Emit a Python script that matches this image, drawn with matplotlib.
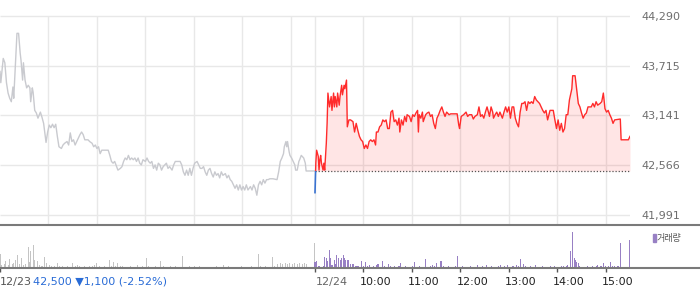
import matplotlib
matplotlib.use("Agg")
import matplotlib.pyplot as plt
from matplotlib.lines import Line2D
from matplotlib.patches import Rectangle
import numpy as np

# minutes on a continuous axis: 0-390 = 12/23 session, 390-780 = 12/24 session
prev_day = [(0, 43650), (1, 43520), (4, 43800), (6, 43750), (8, 43520), (10, 43400), (12, 43340),
            (14, 43300), (16, 43470), (17, 43340), (21, 44090), (23, 44090), (25, 43860), (26, 43780),
            (28, 43550), (29, 43750), (31, 43550), (33, 43460), (35, 43490), (37, 43460), (38, 43300),
            (40, 43460), (41, 43410), (43, 43200), (45, 43170), (47, 43110), (50, 43180), (52, 43120),
            (54, 43050), (57, 42830), (59, 42950), (61, 43030), (63, 43000), (65, 43040), (67, 43000),
            (69, 43040), (71, 42900), (73, 42780), (76, 42760), (78, 42800), (80, 42820), (83, 42840),
            (85, 42800), (87, 42940), (89, 42840), (91, 42860), (93, 42800), (95, 42840), (97, 42880),
            (99, 42920), (101, 42950), (103, 42920), (105, 42860), (107, 42860), (109, 42860),
            (111, 42840), (114, 42820), (116, 42780), (118, 42800), (120, 42760), (122, 42780),
            (124, 42700), (126, 42740), (130, 42740), (134, 42740), (136, 42680), (138, 42610),
            (140, 42590), (142, 42610), (146, 42510), (149, 42530), (151, 42550), (153, 42610),
            (155, 42650), (157, 42630), (159, 42680), (161, 42630), (163, 42650), (165, 42630),
            (167, 42650), (169, 42610), (171, 42650), (173, 42590), (175, 42570), (177, 42630),
            (180, 42610), (182, 42650), (184, 42610), (186, 42590), (188, 42610), (190, 42530),
            (192, 42570), (194, 42510), (196, 42590), (198, 42570), (200, 42510), (202, 42550),
            (204, 42570), (206, 42590), (208, 42530), (210, 42550), (213, 42510), (215, 42570),
            (217, 42610), (223, 42610), (225, 42570), (227, 42490), (229, 42450), (231, 42510),
            (233, 42450), (235, 42530), (237, 42450), (239, 42530), (241, 42590), (244, 42610),
            (246, 42570), (248, 42530), (250, 42530), (252, 42550), (254, 42490), (256, 42450),
            (258, 42510), (260, 42530), (262, 42470), (264, 42430), (266, 42490), (268, 42450),
            (270, 42470), (272, 42420), (274, 42490), (276, 42450), (279, 42470), (281, 42420),
            (283, 42450), (285, 42400), (287, 42380), (289, 42340), (291, 42300), (293, 42340),
            (295, 42280), (297, 42340), (299, 42280), (301, 42320), (303, 42280), (305, 42340),
            (307, 42280), (310, 42320), (312, 42280), (314, 42340), (316, 42300), (318, 42220),
            (320, 42340), (322, 42380), (324, 42340), (326, 42400), (328, 42360), (330, 42400),
            (332, 42400), (334, 42410), (338, 42410), (343, 42400), (345, 42490), (347, 42610),
            (349, 42650), (351, 42700), (352, 42780), (354, 42840), (355, 42780), (356, 42840),
            (358, 42720), (359, 42680), (361, 42650), (363, 42610), (365, 42570), (366, 42510),
            (368, 42510), (370, 42610), (371, 42630), (373, 42680), (376, 42650), (378, 42590),
            (379, 42500), (390, 42500)]

today = [(390, 42250), (391, 42590), (392, 42740), (394, 42670), (395, 42510), (396, 42630),
         (397, 42680), (398, 42590), (400, 42510), (401, 42590), (402, 42510), (404, 42820),
         (405, 43050), (406, 43400), (408, 43240), (410, 43360), (411, 43200), (413, 43400),
         (414, 43240), (415, 43360), (417, 43240), (418, 43400), (420, 43260), (421, 43360),
         (423, 43490), (424, 43380), (426, 43490), (427, 43450), (429, 43550), (430, 43010),
         (432, 43090), (434, 43090), (437, 43070), (439, 42950), (441, 43050), (443, 42970),
         (445, 42900), (447, 42860), (449, 42840), (451, 42760), (453, 42800), (455, 42760),
         (457, 42840), (459, 42860), (461, 42840), (463, 42860), (465, 42800), (466, 42950),
         (468, 42950), (470, 43010), (472, 43030), (474, 43090), (476, 43070), (478, 43090),
         (480, 42990), (482, 42990), (484, 43180), (486, 43200), (488, 43070), (490, 43090),
         (492, 43030), (494, 43110), (495, 42950), (497, 43090), (499, 43030), (501, 43130),
         (503, 43070), (504, 43150), (507, 43130), (509, 43070), (511, 43150), (513, 43130),
         (515, 43170), (517, 43200), (518, 42950), (519, 43150), (521, 43110), (523, 43180),
         (524, 43070), (527, 43150), (529, 43170), (531, 43180), (533, 43130), (535, 43150),
         (537, 43050), (539, 42990), (541, 43110), (543, 43150), (545, 43200), (547, 43240),
         (549, 43180), (551, 43130), (553, 43180), (556, 43150), (558, 43160), (566, 43160),
         (568, 43030), (569, 42990), (571, 43130), (574, 43150), (577, 43180), (579, 43130),
         (581, 43150), (584, 43150), (586, 43100), (588, 43130), (591, 43150), (593, 43240),
         (595, 43130), (597, 43150), (599, 43110), (601, 43180), (603, 43240), (605, 43170),
         (606, 43130), (608, 43240), (610, 43180), (611, 43110), (613, 43150), (615, 43180),
         (617, 43130), (619, 43180), (622, 43110), (624, 43180), (626, 43240), (628, 43180),
         (630, 43240), (632, 43110), (634, 43240), (636, 43240), (638, 43110), (640, 43050),
         (642, 43010), (644, 43180), (646, 43280), (648, 43280), (650, 43300), (652, 43200),
         (654, 43300), (656, 43280), (658, 43300), (660, 43280), (662, 43360), (664, 43320),
         (666, 43300), (668, 43280), (670, 43240), (672, 43200), (674, 43170), (676, 43200),
         (678, 43090), (681, 43200), (685, 43200), (687, 43090), (689, 42990), (691, 43090),
         (693, 42970), (695, 43050), (697, 42950), (699, 42990), (701, 43150), (703, 43150),
         (705, 43320), (708, 43450), (709, 43600), (712, 43600), (714, 43440), (716, 43280),
         (718, 43240), (720, 43170), (722, 43110), (724, 43150), (726, 43170), (728, 43240),
         (732, 43240), (734, 43280), (736, 43240), (738, 43300), (740, 43260), (743, 43280),
         (745, 43300), (747, 43400), (749, 43220), (751, 43180), (753, 43200), (755, 43150),
         (757, 43110), (759, 43050), (761, 43090), (768, 43100), (769, 42860), (778, 42860),
         (780, 42900)]

# volume (thousand shares)
prev_vol = [(0, 14), (2, 3), (5, 4), (7, 7), (10, 3), (12, 9), (15, 4), (17, 5), (19, 8), (22, 13),
            (24, 4), (27, 10), (29, 3), (32, 4), (35, 21), (37, 6), (38, 17), (41, 23), (43, 8),
            (46, 7), (49, 3), (52, 2), (55, 11), (58, 5), (61, 3), (64, 2), (67, 2), (71, 5), (74, 2),
            (77, 2), (80, 1), (83, 2), (86, 1), (90, 5), (93, 2), (96, 3), (99, 2), (102, 1), (105, 2),
            (108, 1), (111, 2), (114, 2), (117, 3), (120, 5), (123, 2), (126, 1), (129, 2), (132, 1),
            (136, 8), (138, 2), (140, 6), (143, 2), (146, 5), (149, 2), (152, 2), (155, 1), (158, 1),
            (161, 2), (164, 1), (167, 1), (170, 3), (173, 1), (176, 2), (178, 1), (181, 10), (184, 2),
            (187, 1), (190, 1), (193, 2), (196, 1), (199, 7), (202, 2), (205, 1), (208, 1), (211, 2),
            (214, 1), (217, 2), (220, 1), (223, 1), (226, 12), (229, 1), (232, 1), (235, 2), (238, 1),
            (241, 2), (244, 1), (247, 2), (250, 1), (253, 1), (256, 1), (259, 1), (262, 1), (265, 1),
            (268, 2), (271, 1), (274, 1), (277, 3), (280, 1), (283, 2), (287, 1), (290, 1), (293, 1),
            (296, 1), (299, 2), (302, 1), (305, 1), (308, 1), (311, 2), (314, 1), (317, 1), (320, 14),
            (323, 2), (326, 1), (329, 2), (332, 1), (337, 11), (340, 2), (344, 4), (347, 5), (350, 4),
            (353, 5), (356, 4), (359, 5), (362, 4), (365, 5), (368, 4), (371, 5), (374, 4), (377, 5),
            (379, 4), (389, 25)]

today_vol = [(390, 6), (391, 5), (392, 7), (394, 2), (396, 2), (398, 1), (400, 2), (402, 11),
             (404, 10), (406, 7), (408, 18), (409, 10), (411, 3), (412, 3), (414, 8), (415, 4),
             (417, 13), (419, 10), (421, 8), (423, 10), (425, 13), (426, 10), (428, 8), (430, 8),
             (432, 8), (434, 4), (436, 4), (438, 4), (440, 2), (442, 2), (444, 2), (446, 1), (448, 7),
             (450, 2), (453, 6), (455, 2), (458, 3), (461, 1), (463, 2), (466, 3), (468, 4), (470, 1),
             (473, 7), (476, 2), (478, 1), (481, 4), (484, 2), (488, 2), (491, 1), (494, 2), (496, 5),
             (499, 1), (502, 2), (505, 1), (508, 1), (511, 2), (513, 6), (516, 1), (519, 2), (522, 1),
             (524, 1), (527, 9), (530, 1), (533, 2), (536, 3), (538, 2), (541, 5), (543, 1), (546, 7),
             (549, 2), (552, 1), (555, 2), (558, 1), (561, 1), (564, 2), (567, 12), (570, 1), (573, 2),
             (576, 1), (579, 1), (582, 2), (585, 1), (588, 1), (591, 3), (594, 1), (597, 2), (599, 1),
             (602, 3), (605, 1), (608, 2), (611, 1), (614, 1), (617, 2), (620, 3), (623, 1), (625, 2),
             (628, 3), (631, 1), (634, 2), (636, 2), (639, 3), (642, 2), (645, 9), (648, 4), (651, 2),
             (654, 1), (657, 2), (660, 1), (663, 3), (666, 1), (669, 1), (672, 2), (675, 1), (678, 1),
             (681, 2), (684, 1), (686, 2), (689, 1), (692, 1), (695, 2), (698, 2), (701, 2), (703, 3),
             (706, 17), (709, 36), (711, 10), (712, 8), (714, 6), (716, 5), (718, 2), (721, 1),
             (724, 1), (727, 2), (730, 1), (733, 2), (736, 1), (738, 2), (740, 3), (743, 2), (745, 2),
             (747, 5), (750, 2), (753, 2), (756, 6), (758, 2), (761, 2), (764, 2), (766, 2), (768, 25),
             (779, 28)]

ref_price = 42500
price_ticks = [41991, 42566, 43141, 43715, 44290]
price_labels = ["41,991", "42,566", "43,141", "43,715", "44,290"]
hour_grid = [60, 120, 180, 240, 300, 360, 390, 450, 510, 570, 630, 690, 750]
axis_ticks = [0, 390, 450, 510, 570, 630, 690, 750]
axis_labels = ["12/23", "12/24", "10:00", "11:00", "12:00", "13:00", "14:00", "15:00"]
info_text = "42,500 \u25bc1,100 (-2.52%)"

W, H = 700, 289
fig = plt.figure(figsize=(W / 100, H / 100), dpi=100)

ax = fig.add_axes([0, (H - 225) / H, 630 / W, 225 / H])
ax.set_xlim(0, 780)
ax.set_ylim(41876, 44475)
for s in ax.spines.values():
    s.set_visible(False)
ax.set_xticks([])
ax.yaxis.tick_right()
ax.set_yticks(price_ticks)
ax.set_yticklabels(price_labels)
ax.tick_params(axis="y", length=0, pad=8, labelsize=8, labelcolor="#6e6e6e")

ax.hlines(price_ticks, 0, 780, color="#e8e8e8", lw=1, zorder=0)
ax.vlines(hour_grid, 41876, 44290, color="#e8e8e8", lw=1, zorder=0)

pt, pv = zip(*prev_day)
ax.plot(pt, pv, color="#c9cacf", lw=1, zorder=3)

tt, tv = np.array(today).T
ax.fill_between(tt, tv, ref_price, where=tv >= ref_price, interpolate=True,
                color="#ff0000", alpha=0.1, lw=0, zorder=1)
ax.hlines(ref_price, 390, 780, color="#555555", lw=0.9, linestyles=(0, (1, 1.5)), zorder=2)
up, = ax.plot(tt, tv, color="#ff2b2b", lw=1, zorder=4)
up.set_clip_path(Rectangle((0, ref_price), 780, 5000, transform=ax.transData))
down, = ax.plot(tt, tv, color="#3a72d0", lw=1.2, zorder=4)
down.set_clip_path(Rectangle((0, 30000), 780, ref_price - 30000, transform=ax.transData))

# volume panel
av = fig.add_axes([0, (H - 268) / H, 630 / W, 43 / H])
av.set_xlim(0, 780)
av.set_ylim(0, 43)
for s in av.spines.values():
    s.set_visible(False)
av.set_yticks([])
vt, vv = zip(*prev_vol)
av.bar(vt, vv, width=1.3, color="#c4c4c4", lw=0)
vt2, vv2 = zip(*today_vol)
av.bar(vt2, vv2, width=1.3, color="#9880c4", lw=0)
av.set_xticks(axis_ticks)
av.set_xticklabels([])
av.tick_params(axis="x", length=3, width=1, color="#555555", direction="out")

for t, lab in zip(axis_ticks, axis_labels):
    dx = -4
    col = "#222222"
    if t == 0:
        dx, col = 0, "#555555"
    elif t == 390:
        dx, col = 1, "#666666"
    av.annotate(lab, xy=(t, 0), xycoords=("data", "axes fraction"), xytext=(dx, -14),
                textcoords="offset pixels", ha="left", va="center", fontsize=8, color=col)
av.annotate(info_text, xy=(0, 0), xycoords=("data", "axes fraction"), xytext=(33, -14),
            textcoords="offset pixels", ha="left", va="center", fontsize=8, color="#2a6cd6")

# panel divider lines across the full width
fig.add_artist(Line2D([0, 1], [(H - 225) / H] * 2, color="#7a7a7a", lw=1.5))
fig.add_artist(Line2D([0, 1], [(H - 268) / H] * 2, color="#7a7a7a", lw=1.5))

# legend
fig.add_artist(Rectangle((652.5 / W, (H - 242) / H), 3 / W, 8 / H, color="#9880c4",
                         transform=fig.transFigure))
fig.text(657 / W, (H - 238) / H, "거래량", fontsize=6.5, color="#555555", va="center",
         family=["Noto Sans CJK KR", "DejaVu Sans"])

fig.savefig("out.png", dpi=100)
